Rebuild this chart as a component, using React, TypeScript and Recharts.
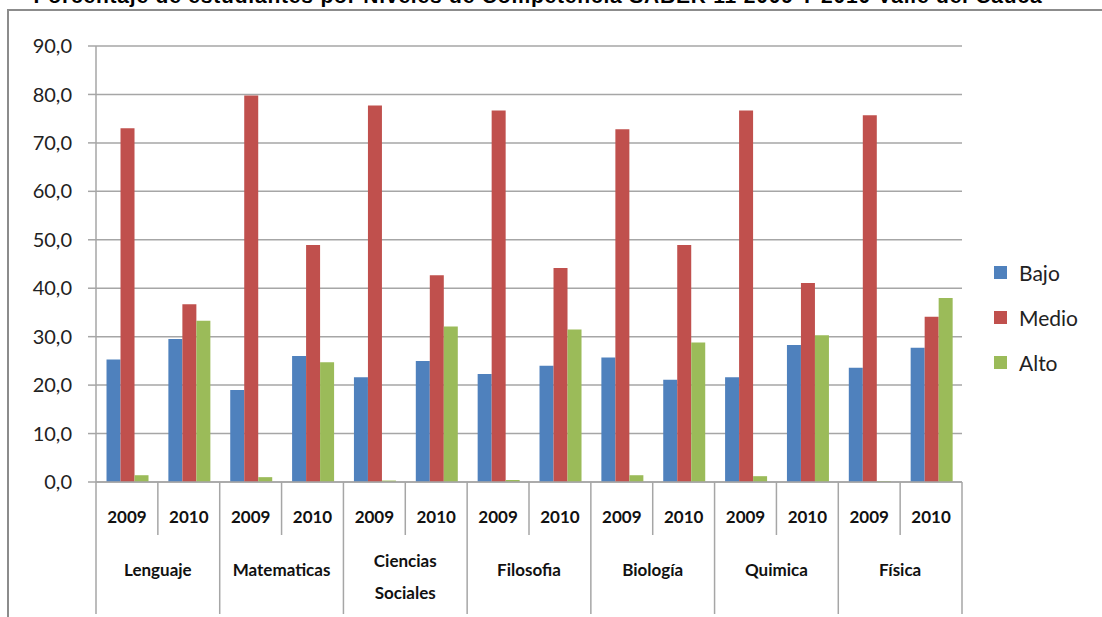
import React from "react";
import { BarChart, Bar, XAxis, YAxis, CartesianGrid } from "recharts";

const SUBJECTS = [
  "Lenguaje",
  "Matematicas",
  "Ciencias Sociales",
  "Filosofia",
  "Biología",
  "Quimica",
  "Física",
];
const YEARS = ["2009", "2010"];

const BAJO = [25.3, 29.5, 19.0, 26.0, 21.6, 25.0, 22.3, 24.0, 25.7, 21.1, 21.6, 28.3, 23.6, 27.7];
const MEDIO = [73.0, 36.7, 79.8, 48.9, 77.7, 42.7, 76.7, 44.2, 72.8, 48.9, 76.7, 41.1, 75.7, 34.1];
const ALTO = [1.4, 33.3, 1.0, 24.7, 0.3, 32.1, 0.4, 31.5, 1.4, 28.8, 1.2, 30.3, 0.2, 38.0];

const Y_TICKS = [0, 10, 20, 30, 40, 50, 60, 70, 80, 90];

const SERIES = [
  { key: "bajo", name: "Bajo", color: "#4F81BD" },
  { key: "medio", name: "Medio", color: "#C0504D" },
  { key: "alto", name: "Alto", color: "#9BBB59" },
];

const data = SUBJECTS.flatMap((s, si) =>
  YEARS.map((y, yi) => {
    const i = si * 2 + yi;
    return { year: y, subject: s, bajo: BAJO[i], medio: MEDIO[i], alto: ALTO[i] };
  })
);

const W = 1102;
const H = 617;
const M = { top: 46, right: 140, bottom: 0, left: 16 };
const Y_W = 80;
const X_H = 135;
const CAT_W = (W - M.left - Y_W - M.right) / data.length;
const GRID = "#a6a6a6";
const FONT = "Lato, 'Open Sans', sans-serif";

const YearTick = (props: any) => {
  const { x, y, payload, index } = props;
  const right = x + CAT_W / 2;
  const endOfSubject = index % 2 === 1;
  const subject = SUBJECTS[Math.floor(index / 2)];
  const lines = subject === "Ciencias Sociales" ? ["Ciencias", "Sociales"] : [subject];
  return (
    <g>
      <text
        x={x}
        y={y + 41}
        textAnchor="middle"
        fontFamily={FONT}
        fontSize={17}
        fontWeight={700}
        fill="#111"
      >
        {payload.value}
      </text>
      <line x1={right} x2={right} y1={y} y2={endOfSubject ? y + 132 : y + 53} stroke={GRID} strokeWidth={1.5} />
      {index === 0 && (
        <line x1={x - CAT_W / 2} x2={x - CAT_W / 2} y1={y} y2={y + 132} stroke={GRID} strokeWidth={1.5} />
      )}
      {index % 2 === 0 &&
        lines.map((l, li) => (
          <text
            key={l}
            x={right}
            y={lines.length > 1 ? y + 85 + li * 32 : y + 94}
            textAnchor="middle"
            fontFamily={FONT}
            fontSize={17}
            fontWeight={700}
            fill="#111"
          >
            {l}
          </text>
        ))}
    </g>
  );
};

export default function App() {
  return (
    <div
      style={{
        position: "absolute",
        left: 0,
        top: 0,
        width: W,
        height: H,
        overflow: "hidden",
        background: "#fff",
      }}
    >
      <div
        style={{
          position: "absolute",
          left: 7,
          top: 9,
          width: W + 20,
          height: H + 20,
          borderTop: "2px solid #8c8c8c",
          borderLeft: "2px solid #8c8c8c",
          boxSizing: "border-box",
        }}
      />
      <div
        style={{
          position: "absolute",
          left: 0,
          top: -15,
          width: 1076,
          textAlign: "center",
          fontFamily: "'Liberation Sans', Arial, sans-serif",
          fontWeight: 700,
          fontSize: 21,
          lineHeight: "21px",
          letterSpacing: 0.8,
          color: "#000",
          whiteSpace: "nowrap",
        }}
      >
        Porcentaje de estudiantes por Niveles de Competencia SABER 11 2009 Y 2010 Valle del Cauca
      </div>
      <div style={{ position: "absolute", left: 0, top: 0 }}>
        <BarChart width={W} height={H} data={data} margin={M} barCategoryGap="17%" barGap={0}>
          <CartesianGrid vertical={false} stroke={GRID} strokeWidth={1.5} />
          <XAxis
            dataKey="year"
            interval={0}
            height={X_H}
            tickSize={0}
            tickMargin={0}
            tickLine={false}
            axisLine={{ stroke: GRID, strokeWidth: 1.5 }}
            tick={<YearTick />}
          />
          <YAxis
            width={Y_W}
            domain={[0, 90]}
            ticks={Y_TICKS}
            interval={0}
            tickSize={8}
            tickMargin={16}
            tickLine={{ stroke: GRID, strokeWidth: 1.5 }}
            axisLine={{ stroke: GRID, strokeWidth: 1.5 }}
            tickFormatter={(v: number) => v.toFixed(1).replace(".", ",")}
            tick={{ fontFamily: FONT, fontSize: 20, fill: "#222" }}
          />
          {SERIES.map((s) => (
            <Bar key={s.key} dataKey={s.key} name={s.name} fill={s.color} isAnimationActive={false} />
          ))}
        </BarChart>
      </div>
      {SERIES.map((s, i) => (
        <div
          key={s.key}
          style={{
            position: "absolute",
            left: 994,
            top: 258 + i * 45,
            height: 28,
            display: "flex",
            alignItems: "center",
            fontFamily: FONT,
            fontSize: 21,
            color: "#222",
          }}
        >
          <span style={{ width: 13, height: 13, background: s.color, marginRight: 12, display: "inline-block" }} />
          {s.name}
        </div>
      ))}
    </div>
  );
}
